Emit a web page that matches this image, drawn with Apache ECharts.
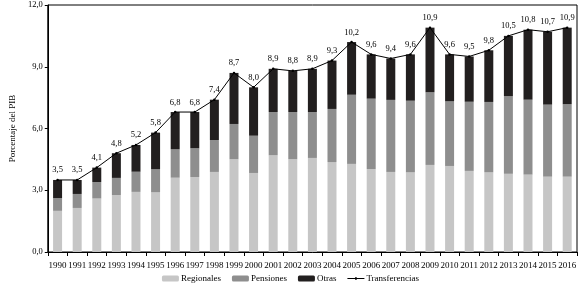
<!DOCTYPE html>
<html><head><meta charset="utf-8">
<script src="https://cdn.jsdelivr.net/npm/echarts@6/dist/echarts.min.js"></script>
<style>html,body{margin:0;padding:0;background:#fff}#c{width:581px;height:290px}</style>
</head><body><div id="c"></div>
<script>
const years = ['1990','1991','1992','1993','1994','1995','1996','1997','1998','1999','2000','2001','2002','2003','2004','2005','2006','2007','2008','2009','2010','2011','2012','2013','2014','2015','2016'];
const regionales = [2.0,2.14,2.6,2.77,2.92,2.9,3.61,3.64,3.89,4.5,3.84,4.7,4.5,4.57,4.37,4.28,4.03,3.89,3.87,4.23,4.18,3.94,3.87,3.8,3.76,3.66,3.66];
const pensiones = [0.62,0.68,0.8,0.83,0.98,1.12,1.38,1.4,1.55,1.72,1.81,2.1,2.3,2.23,2.58,3.36,3.42,3.5,3.48,3.53,3.14,3.36,3.42,3.77,3.64,3.5,3.52];
const otras = [0.88,0.68,0.7,1.2,1.3,1.78,1.81,1.76,1.96,2.48,2.35,2.1,2.0,2.1,2.35,2.56,2.15,2.01,2.25,3.14,2.28,2.2,2.51,2.93,3.4,3.54,3.72];
const transferencias = [3.5,3.5,4.1,4.8,5.2,5.8,6.8,6.8,7.4,8.7,8.0,8.9,8.8,8.9,9.3,10.2,9.6,9.4,9.6,10.9,9.6,9.5,9.8,10.5,10.8,10.7,10.9];
const yTicks = [0,3,6,9,12];

const font = 'Liberation Serif';
const fmt = v => v.toFixed(1).replace('.', ',');
const chart = echarts.init(document.getElementById('c'), null, {renderer:'canvas'});
chart.setOption({
  animation:false,
  textStyle:{fontFamily:font},
  grid:{left:38,right:4,top:5,bottom:38,show:true,borderColor:'#000',borderWidth:1},
  legend:{bottom:2,left:'center',itemWidth:17,itemHeight:6,itemGap:11,
    textStyle:{fontFamily:font,fontSize:9,color:'#000',padding:[0,0,0,-3]},
    data:['Regionales','Pensiones','Otras',{name:'Transferencias',icon:'path://M0,4.5L20,4.5L20,5.5L0,5.5Z M9,3.5L11,3.5L11,6.5L9,6.5Z'}]},
  xAxis:{type:'category',data:years,
    axisLine:{lineStyle:{color:'#000',width:1}},
    axisTick:{show:true,length:4,lineStyle:{color:'#000'}},
    axisLabel:{fontFamily:font,fontSize:9,color:'#000',margin:9,interval:0}},
  yAxis:{type:'value',min:yTicks[0],max:yTicks[yTicks.length-1],interval:3,
    name:'Porcentaje del PIB',nameLocation:'middle',nameGap:28,
    nameTextStyle:{fontFamily:font,fontSize:9,color:'#000'},
    axisLine:{show:true,lineStyle:{color:'#000'}},
    axisTick:{show:true,length:3,lineStyle:{color:'#000'}},
    splitLine:{show:false},
    axisLabel:{fontFamily:font,fontSize:8.5,color:'#000',margin:5,formatter:v=>fmt(v)}},
  series:[
    {name:'Regionales',type:'bar',stack:'t',data:regionales,barWidth:9,itemStyle:{color:'#c6c6c6'}},
    {name:'Pensiones',type:'bar',stack:'t',data:pensiones,barWidth:9,itemStyle:{color:'#8e8e8e'}},
    {name:'Otras',type:'bar',stack:'t',data:otras,barWidth:9,itemStyle:{color:'#221f1f'}},
    {name:'Transferencias',type:'line',data:transferencias,symbol:'circle',symbolSize:2.5,
      lineStyle:{color:'#000',width:1},itemStyle:{color:'#000'},
      label:{show:true,position:'top',distance:4,fontFamily:font,fontSize:8.5,color:'#000',formatter:p=>fmt(p.value)}}
  ]
});
</script></body></html>
